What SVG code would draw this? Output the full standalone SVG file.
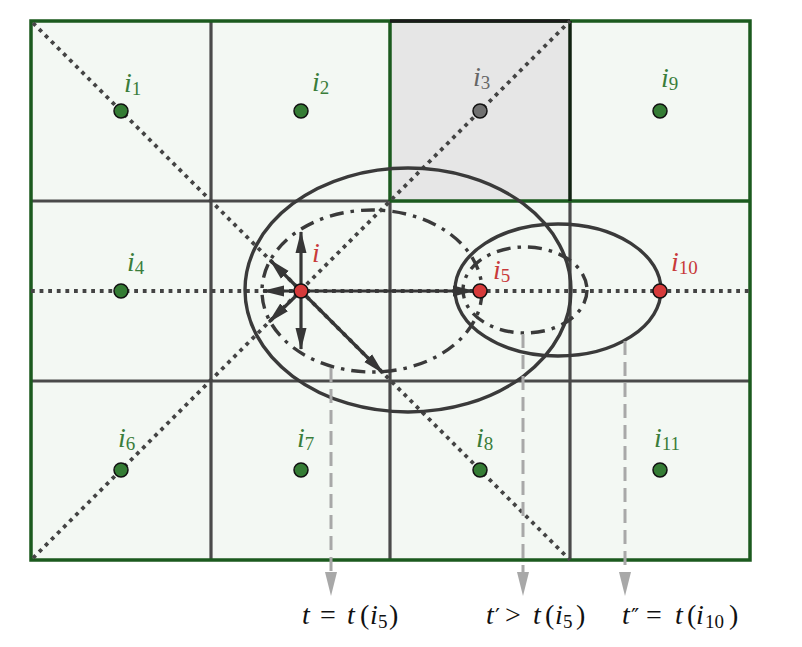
<svg xmlns="http://www.w3.org/2000/svg" width="802" height="647" viewBox="0 0 802 647">
<style>
.gl{stroke:#4a4a4a;stroke-width:3.2;fill:none}
.gn{stroke:#1b5a1e;stroke-width:3.5;fill:none}
.dot{stroke:#444;stroke-width:3.8;stroke-dasharray:3.8 4.8;fill:none}
.el{stroke:#3a3a3a;stroke-width:3.4;fill:none}
.dd{stroke-dasharray:14 7 3.5 7}
.ar{stroke:#363636;stroke-width:3.2;fill:none;marker-end:url(#ah)}
.ga{stroke:#a8a8a8;stroke-width:3;stroke-dasharray:14 7;fill:none}
.gh{fill:#a8a8a8}
.ng{fill:#347c34;stroke:#111;stroke-width:1.5}
.nr{fill:#d63a3a;stroke:#111;stroke-width:1.5}
.nk{fill:#707070;stroke:#111;stroke-width:1.5}
.lb{font-family:"Liberation Serif",serif;font-style:italic;font-size:28px}
.sb{font-style:normal;font-size:19px}
.lg{fill:#3a7d3a}
.lr{fill:#c83a3a}
.lk{fill:#666}
.mt{font-family:"Liberation Serif",serif;font-size:28px;fill:#111}
.it{font-style:italic}
.ms{font-size:19px}
.pr{font-family:"DejaVu Serif",serif;font-size:22px}
</style>
<defs>
<marker id="ah" markerUnits="userSpaceOnUse" markerWidth="22" markerHeight="12" refX="21" refY="6" orient="auto">
<path d="M0,0.5 L22,6 L0,11.5 z" fill="#363636"/>
</marker>
</defs>
<g id="grid">
<rect x="31" y="21" width="719" height="539" fill="#f3f8f3"/>
<rect x="390" y="21" width="180" height="180" fill="#e6e6e6"/>
<line class="gl" x1="211" y1="21" x2="211" y2="560"/>
<line class="gl" x1="390" y1="201" x2="390" y2="560"/>
<line class="gl" x1="570" y1="201" x2="570" y2="560"/>
<line class="gl" x1="31" y1="201" x2="390" y2="201"/>
<line class="gl" x1="31" y1="381" x2="750" y2="381"/>
<rect class="gn" x="31" y="21" width="719" height="539"/>
<line class="gn" x1="390" y1="21" x2="390" y2="201"/>
<line class="gn" x1="390" y1="201" x2="750" y2="201"/>
<line stroke="#1a1a1a" stroke-width="3.5" x1="390" y1="21" x2="570" y2="21"/>
<line stroke="#112211" stroke-width="3.5" x1="570" y1="21" x2="570" y2="201"/>
</g>
<g id="connectors">
<line class="dot" x1="33" y1="23" x2="570" y2="560"/>
<line class="dot" x1="33" y1="558" x2="570" y2="21"/>
<line class="dot" x1="31" y1="291" x2="750" y2="291"/>
<ellipse class="el" cx="408" cy="290" rx="163" ry="122"/>
<ellipse class="el dd" cx="372" cy="291" rx="110" ry="81"/>
<ellipse class="el" cx="558" cy="290" rx="103" ry="66"/>
<ellipse class="el dd" cx="525" cy="290" rx="62" ry="43"/>
<line class="ar" x1="301" y1="291" x2="301" y2="232"/>
<line class="ar" x1="301" y1="291" x2="301" y2="349"/>
<line class="ar" x1="301" y1="291" x2="263" y2="291"/>
<line class="ar" x1="301" y1="291" x2="270" y2="260"/>
<line class="ar" x1="301" y1="291" x2="269" y2="322"/>
<line class="ar" x1="301" y1="291" x2="474" y2="291"/>
<line class="ar" x1="301" y1="291" x2="383" y2="373"/>
<line class="ga" x1="331" y1="368" x2="331" y2="574"/>
<polygon class="gh" points="325,572 337,572 331,596"/>
<line class="ga" x1="523" y1="334" x2="523" y2="574"/>
<polygon class="gh" points="517,572 529,572 523,596"/>
<line class="ga" x1="625" y1="341" x2="625" y2="574"/>
<polygon class="gh" points="619,572 631,572 625,596"/>
</g>
<g id="n_i1"><circle class="ng" cx="121" cy="111" r="7"/><text class="lb lg" x="124" y="92">i<tspan class="sb" dy="3">1</tspan></text></g>
<g id="n_i2"><circle class="ng" cx="301" cy="111" r="7"/><text class="lb lg" x="312" y="91">i<tspan class="sb" dy="3">2</tspan></text></g>
<g id="n_i3"><circle class="nk" cx="480" cy="111" r="7"/><text class="lb lk" x="473" y="86">i<tspan class="sb" dy="3">3</tspan></text></g>
<g id="n_i9"><circle class="ng" cx="660" cy="111" r="7"/><text class="lb lg" x="661" y="87">i<tspan class="sb" dy="3">9</tspan></text></g>
<g id="n_i4"><circle class="ng" cx="121" cy="291" r="7"/><text class="lb lg" x="127" y="271">i<tspan class="sb" dy="3">4</tspan></text></g>
<g id="n_i"><circle class="nr" cx="301" cy="291" r="7"/><text class="lb lr" x="312" y="262">i</text></g>
<g id="n_i5"><circle class="nr" cx="480" cy="291" r="7"/><text class="lb lr" x="493" y="279">i<tspan class="sb" dy="3">5</tspan></text></g>
<g id="n_i10"><circle class="nr" cx="660" cy="291" r="7"/><text class="lb lr" x="671" y="271">i<tspan class="sb" dy="3">10</tspan></text></g>
<g id="n_i6"><circle class="ng" cx="121" cy="470" r="7"/><text class="lb lg" x="118" y="447">i<tspan class="sb" dy="3">6</tspan></text></g>
<g id="n_i7"><circle class="ng" cx="301" cy="470" r="7"/><text class="lb lg" x="297" y="447">i<tspan class="sb" dy="3">7</tspan></text></g>
<g id="n_i8"><circle class="ng" cx="480" cy="470" r="7"/><text class="lb lg" x="476" y="447">i<tspan class="sb" dy="3">8</tspan></text></g>
<g id="n_i11"><circle class="ng" cx="660" cy="470" r="7"/><text class="lb lg" x="654" y="447">i<tspan class="sb" dy="3">11</tspan></text></g>
<g id="labels">
<text class="mt" y="624"><tspan class="it" x="302">t</tspan><tspan x="320">=</tspan><tspan class="it" x="347">t</tspan><tspan x="360">(</tspan><tspan class="it" x="370">i</tspan><tspan class="ms" x="378" dy="4">5</tspan><tspan x="389" dy="-4">)</tspan></text>
<text class="mt" y="624"><tspan class="it" x="486">t</tspan><tspan class="pr" x="495">′</tspan><tspan x="505">&gt;</tspan><tspan class="it" x="533">t</tspan><tspan x="545">(</tspan><tspan class="it" x="555">i</tspan><tspan class="ms" x="563" dy="4">5</tspan><tspan x="576" dy="-4">)</tspan></text>
<text class="mt" y="624"><tspan class="it" x="622">t</tspan><tspan class="pr" x="631">″</tspan><tspan x="646">=</tspan><tspan class="it" x="675">t</tspan><tspan x="687">(</tspan><tspan class="it" x="696">i</tspan><tspan class="ms" x="705" dy="4">10</tspan><tspan x="729" dy="-4">)</tspan></text>
</g>
</svg>
